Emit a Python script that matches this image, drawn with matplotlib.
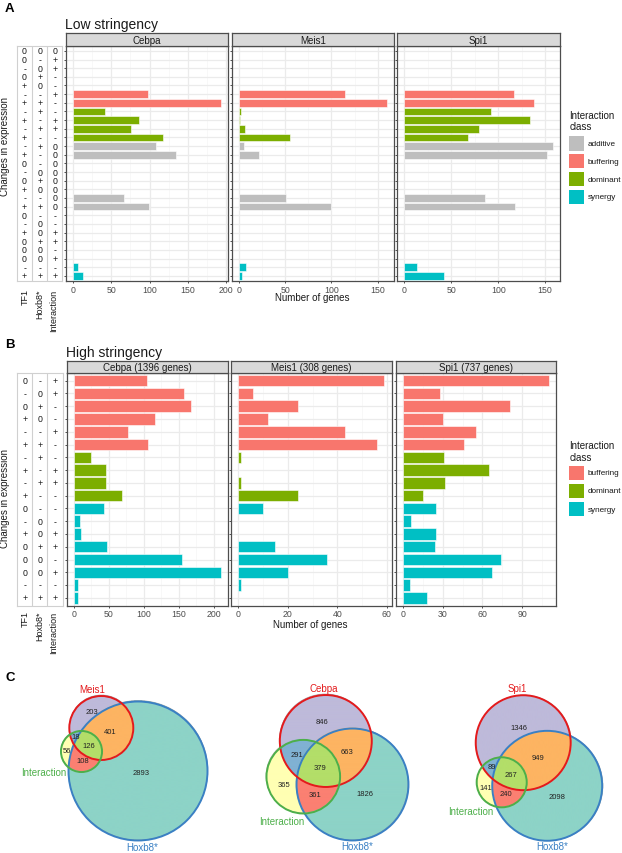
import numpy as np
import matplotlib
matplotlib.use("Agg")
import matplotlib.pyplot as plt
from matplotlib.patches import Rectangle, Circle
from matplotlib.ticker import FixedLocator
from matplotlib.colors import to_rgba

plt.rcParams['font.family'] = ['Liberation Sans', 'DejaVu Sans']

# ---------------- data ----------------
tf_names = ['Cebpa', 'Meis1', 'Spi1']
class_names = ['additive', 'buffering', 'dominant', 'synergy']
class_colors = {'additive': '#BEBEBE', 'buffering': '#F8766D',
                'dominant': '#7CAE00', 'synergy': '#00BFC4'}

# Panel A (low stringency)
a_tf1 = ['0', '0', '-', '0', '+', '-', '+', '-', '+', '-', '+', '-', '+', '0',
         '-', '0', '+', '-', '+', '0', '-', '+', '0', '0', '0', '-', '+']
a_hox = ['0', '-', '0', '+', '0', '-', '+', '+', '-', '+', '-', '+', '-', '-',
         '0', '+', '0', '-', '+', '-', '0', '0', '+', '0', '0', '-', '+']
a_int = ['0', '+', '+', '-', '-', '+', '-', '-', '+', '+', '-', '0', '0', '0',
         '0', '0', '0', '0', '0', '-', '-', '+', '+', '-', '+', '-', '+']
a_class = (['additive'] + ['buffering'] * 6 + ['dominant'] * 4 +
           ['additive'] * 8 + ['synergy'] * 8)
a_cebpa = [0, 0, 0, 0, 0, 98, 193, 42, 86, 76, 118, 108, 135, 0, 0, 0, 0,
           66, 99, 0, 0, 0, 0, 0, 0, 6, 13]
a_meis1 = [0, 0, 0, 0, 0, 115, 160, 2, 1, 6, 55, 5, 22, 0, 0, 0, 0,
           51, 100, 0, 0, 0, 0, 0, 0, 7, 3]
a_spi1 = [0, 0, 0, 0, 0, 117, 138, 92, 134, 80, 68, 158, 152, 0, 0, 0, 0,
          86, 118, 0, 0, 0, 0, 0, 0, 13, 42]
a_ticks = [[0, 50, 100, 150, 200], [0, 50, 100, 150], [0, 50, 100, 150]]

# Panel B (high stringency)
b_tf1 = ['0', '-', '0', '+', '-', '+', '-', '+', '-', '+', '0', '-', '+', '0',
         '0', '0', '-', '+']
b_hox = ['-', '0', '+', '0', '-', '+', '+', '-', '+', '-', '-', '0', '0', '+',
         '0', '0', '-', '+']
b_int = ['+', '+', '-', '-', '+', '-', '-', '+', '+', '-', '-', '-', '+', '+',
         '-', '+', '-', '+']
b_class = ['buffering'] * 6 + ['dominant'] * 4 + ['synergy'] * 8
b_cebpa = [105, 157, 167, 116, 77, 106, 24, 46, 46, 68, 43, 8, 10, 47, 155,
           210, 5, 6]
b_meis1 = [59, 6, 24, 12, 43, 56, 1, 0, 1, 24, 10, 0, 0, 15, 36, 20, 1, 0]
b_spi1 = [110, 28, 81, 30, 55, 46, 31, 65, 32, 15, 25, 6, 25, 24, 74, 67, 5, 18]
b_ticks = [[0, 50, 100, 150, 200], [0, 20, 40, 60], [0, 30, 60, 90]]

# Panel C (Venn): tf_only, hox_only, int_only, tf&hox, tf&int, hox&int, all
venn_tf = ['Meis1', 'Cebpa', 'Spi1']
venn_meis1 = [203, 2893, 56, 401, 18, 108, 126]
venn_cebpa = [846, 1826, 365, 663, 291, 361, 379]
venn_spi1 = [1346, 2098, 141, 949, 89, 240, 267]

# ---------------- layout ----------------
W, H = 622, 854
fig = plt.figure(figsize=(W / 100, H / 100), dpi=100)


def add_ax(x0, y0, x1, y1, **kw):
    return fig.add_axes([x0 / W, 1 - y1 / H, (x1 - x0) / W, (y1 - y0) / H], **kw)


ov = add_ax(0, 0, W, H)
ov.set_xlim(0, W)
ov.set_ylim(H, 0)
ov.axis('off')

BORDER = '#4D4D4D'
TICKC = '#4D4D4D'


def style_spines(ax, color=BORDER, lw=0.9):
    for s in ax.spines.values():
        s.set_color(color)
        s.set_linewidth(lw)


def bar_panel(x0, x1, y0, y1, sy0, vals, classes, label, ticks):
    ax = add_ax(x0, y0, x1, y1)
    n = len(vals)
    y = np.arange(n)
    v = np.array(vals, float)
    m = v > 0
    cols = [class_colors[c] for c, k in zip(classes, m) if k]
    ax.barh(y[m], v[m], height=0.9, color=cols, edgecolor='white',
            linewidth=0.4, zorder=3)
    vmax = v.max()
    ax.set_xlim(-0.05 * vmax, 1.05 * vmax)
    ax.set_ylim(n - 1 + 0.6, -0.6)
    ax.set_xticks(ticks)
    ax.set_xticklabels([str(t) for t in ticks])
    step = ticks[1] - ticks[0]
    ax.xaxis.set_minor_locator(FixedLocator([t + step / 2 for t in ticks]))
    ax.set_yticks(y)
    ax.set_yticklabels([])
    ax.set_axisbelow(True)
    ax.grid(which='major', color='#EBEBEB', lw=0.9)
    ax.grid(which='minor', axis='x', color='#F5F5F5', lw=0.5)
    ax.tick_params(which='major', length=1.6, width=0.6, color='#333333',
                   pad=1.2, labelsize=6.3, labelcolor=TICKC)
    ax.tick_params(which='minor', length=0)
    style_spines(ax)
    st = add_ax(x0, sy0, x1, y0)
    st.set_facecolor('#D9D9D9')
    st.set_xticks([])
    st.set_yticks([])
    style_spines(st)
    st.text(0.5, 0.45, label, ha='center', va='center', fontsize=7,
            color='#1A1A1A', transform=st.transAxes)
    return ax


def table_panel(x0, x1, y0, y1, cols):
    ax = add_ax(x0, y0, x1, y1)
    n = len(cols[0])
    ax.set_xlim(0, 3)
    ax.set_ylim(n - 1 + 0.6, -0.6)
    ax.set_xticks([])
    ax.set_yticks([])
    style_spines(ax, '#D0D0D0', 0.8)
    for xv in (1, 2):
        ax.axvline(xv, color='#D0D0D0', lw=0.8)
    for j, col in enumerate(cols):
        for i, s in enumerate(col):
            ax.text(j + 0.5, i, s, ha='center', va='center', fontsize=6.3,
                    color='#1A1A1A')
    return ax


def legend_block(x, title_base, key_centers, names):
    ov.text(x, title_base[0], 'Interaction', fontsize=7, va='baseline',
            ha='left', color='#1A1A1A')
    ov.text(x, title_base[1], 'class', fontsize=7, va='baseline',
            ha='left', color='#1A1A1A')
    for yc, nm in zip(key_centers, names):
        ov.add_patch(Rectangle((x, yc - 7.2), 14.5, 14.4,
                               facecolor=class_colors[nm], edgecolor='none'))
        ov.text(x + 18.5, yc, nm, fontsize=5.9, va='center', ha='left',
                color='#1A1A1A')


# ---- Panel A ----
ov.text(5, 11.7, 'A', fontsize=9.5, fontweight='bold', va='baseline')
ov.text(65, 29.3, 'Low stringency', fontsize=10, va='baseline', color='#1A1A1A')
A_top, A_bot, A_st = 46.7, 282.0, 34.3
A_x = [(65.7, 228.0), (231.7, 394.3), (397.0, 560.0)]
for (x0, x1), tf, vals, tk in zip(A_x, tf_names, [a_cebpa, a_meis1, a_spi1],
                                  a_ticks):
    bar_panel(x0, x1, A_top, A_bot, A_st, vals, a_class, tf, tk)
table_panel(17.0, 62.3, A_top, A_bot, [a_tf1, a_hox, a_int])
for xc, lab in zip([24.8, 39.5, 54.0], ['TF1', 'Hoxb8*', 'Interaction']):
    ov.text(xc, 289.5, lab, rotation=90, ha='center', va='top', fontsize=6.5,
            color='#1A1A1A')
ov.text(5.5, 146.7, 'Changes in expression', rotation=90, ha='center',
        va='center', fontsize=7, color='#1A1A1A')
ov.text(312, 298.5, 'Number of genes', ha='center', va='center', fontsize=7,
        color='#1A1A1A')
legend_block(569.3, (119.3, 130.5), [144.5, 162.2, 180.0, 197.8], class_names)

# ---- Panel B ----
ov.text(5, 347.7, 'B', fontsize=9.5, fontweight='bold', va='baseline')
ov.text(66, 356.7, 'High stringency', fontsize=10, va='baseline', color='#1A1A1A')
B_top, B_bot, B_st = 374.0, 606.5, 361.7
B_x = [(66.7, 228.0), (231.0, 391.7), (395.7, 556.0)]
for (x0, x1), tf, vals, tk in zip(B_x, tf_names, [b_cebpa, b_meis1, b_spi1],
                                  b_ticks):
    lab = '%s (%d genes)' % (tf, int(np.sum(vals)))
    bar_panel(x0, x1, B_top, B_bot, B_st, vals, b_class, lab, tk)
table_panel(17.3, 62.5, B_top, B_bot, [b_tf1, b_hox, b_int])
for xc, lab in zip([24.8, 39.5, 54.0], ['TF1', 'Hoxb8*', 'Interaction']):
    ov.text(xc, 611.5, lab, rotation=90, ha='center', va='top', fontsize=6.5,
            color='#1A1A1A')
ov.text(5.5, 499, 'Changes in expression', rotation=90, ha='center',
        va='center', fontsize=7, color='#1A1A1A')
ov.text(310, 625, 'Number of genes', ha='center', va='center', fontsize=7,
        color='#1A1A1A')
legend_block(569.3, (449.3, 460.7), [473.7, 491.7, 510.0],
             ['buffering', 'dominant', 'synergy'])

# ---- Panel C (Venn) ----
ov.text(5, 681, 'C', fontsize=9.5, fontweight='bold', va='baseline')
fill_cols = ['#BEBADA', '#8DD3C7', '#FFFFB3', '#FDB462', '#80B1D3',
             '#FB8072', '#B3DE69']
RED, BLUE, GREEN = '#E41A1C', '#3A80C4', '#4DAF4A'

# layout per diagram: centres of TF, Hoxb8, Interaction circles; px per sqrt(n)
venn_layout = [
    dict(c=[(101.3, 729.0), (138.0, 772.0), (81.5, 752.5)], k=1.17,
         txt=[(92, 712.7), (141, 774), (67.3, 751.7), (110.3, 732.7),
              (76, 737.3), (82.7, 761.3), (89.3, 746.7)],
         lab=[(91.7, 690), (43.3, 773.3), (141.7, 847.7)]),
    dict(c=[(325.8, 742.0), (352.5, 785.5), (303.3, 777.7)], k=0.985,
         txt=[(322.3, 722.3), (365.3, 795), (284.3, 785.7), (347.3, 753),
              (297, 756), (315.3, 795.7), (320, 769)],
         lab=[(324, 689.3), (281.7, 822), (357.3, 847.3)]),
    dict(c=[(523.2, 743.7), (547.2, 786.8), (501.7, 783.3)], k=0.922,
         txt=[(519, 728.3), (556.7, 797.3), (485.7, 788.3), (538.3, 758.3),
              (492.3, 767.3), (506.3, 795), (510.7, 775.7)],
         lab=[(517, 689.3), (470.7, 811.7), (551.7, 847.3)]),
]

for name, counts, lay in zip(venn_tf, [venn_meis1, venn_cebpa, venn_spi1],
                             venn_layout):
    t_only, h_only, i_only, th, ti, hi, allc = counts
    sizes = [t_only + th + ti + allc, h_only + th + hi + allc,
             i_only + ti + hi + allc]
    circ = [(cx, cy, lay['k'] * np.sqrt(s)) for (cx, cy), s in zip(lay['c'], sizes)]
    x0 = min(c[0] - c[2] for c in circ) - 2
    x1 = max(c[0] + c[2] for c in circ) + 2
    y0 = min(c[1] - c[2] for c in circ) - 2
    y1 = max(c[1] + c[2] for c in circ) + 2
    step = 0.25
    xx = np.arange(x0, x1, step) + step / 2
    yy = np.arange(y0, y1, step) + step / 2
    X, Y = np.meshgrid(xx, yy)
    inn = [(X - cx) ** 2 + (Y - cy) ** 2 <= r ** 2 for cx, cy, r in circ]
    T, Hh, I = inn
    masks = [T & ~Hh & ~I, Hh & ~T & ~I, I & ~T & ~Hh, T & Hh & ~I,
             T & I & ~Hh, Hh & I & ~T, T & Hh & I]
    img = np.zeros(X.shape + (4,))
    for mk, col in zip(masks, fill_cols):
        img[mk] = to_rgba(col)
    ov.imshow(img, extent=(x0, x1, y1, y0), origin='upper',
              interpolation='bilinear', aspect='auto', zorder=1)
    for (cx, cy, r), ec in zip([circ[1], circ[0], circ[2]], [BLUE, RED, GREEN]):
        ov.add_patch(Circle((cx, cy), r, fill=False, ec=ec, lw=1.4, zorder=2))
    for (tx, ty), cval in zip(lay['txt'], counts):
        ov.text(tx, ty, str(cval), ha='center', va='center', fontsize=5.5,
                color='#222222', zorder=3)
    for (lx, ly), lab, col in zip(lay['lab'], [name, 'Interaction', 'Hoxb8*'],
                                  [RED, GREEN, BLUE]):
        ov.text(lx, ly, lab, ha='center', va='center', fontsize=7, color=col,
                zorder=3)

ov.set_xlim(0, W)
ov.set_ylim(H, 0)

fig.savefig('out.png', dpi=100)
